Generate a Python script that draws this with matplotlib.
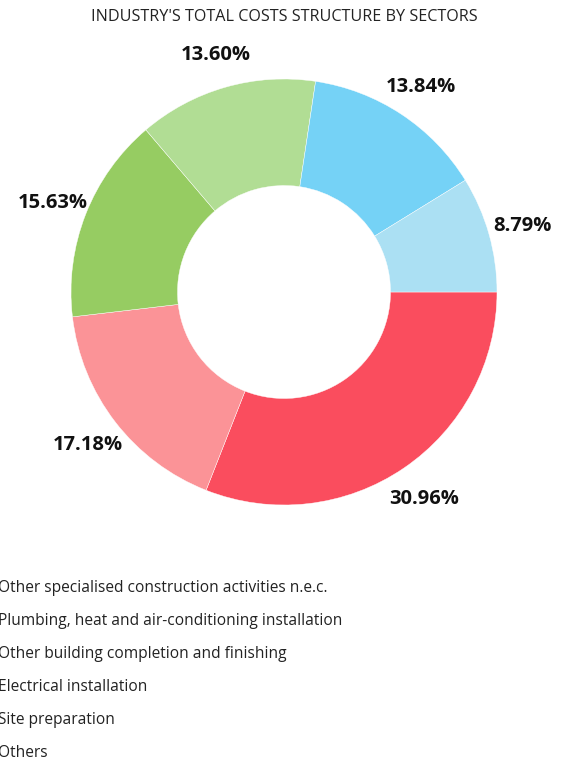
import matplotlib
matplotlib.use("Agg")
import matplotlib.pyplot as plt
from matplotlib.patches import Patch
import numpy as np

categories = [
    "Other specialised construction activities n.e.c.",
    "Plumbing, heat and air-conditioning installation",
    "Other building completion and finishing",
    "Electrical installation",
    "Site preparation",
    "Others",
]
values = [30.96, 17.18, 15.63, 13.60, 13.84, 8.79]
colors = ["#FA4D5E", "#FB9397", "#96CC62", "#B1DD94", "#75D2F6", "#ABE0F3"]
title = "INDUSTRY'S TOTAL COSTS STRUCTURE BY SECTORS"

plt.rcParams["font.family"] = ["Open Sans", "DejaVu Sans"]

W, H, DPI = 562, 760, 100
fig = plt.figure(figsize=(W / DPI, H / DPI), dpi=DPI)

R = 213.0  # outer radius px
cx, cy = 284.0, H - 292.0
L = 1.3
side = 2 * L * R
ax = fig.add_axes([(cx - side / 2) / W, (cy - side / 2) / H, side / W, side / H])
wedges, _ = ax.pie(values, colors=colors, startangle=0, counterclock=False,
                   radius=1.0, wedgeprops=dict(width=0.5, edgecolor="white", linewidth=0.3))
ax.set_xlim(-L, L)
ax.set_ylim(-L, L)
ax.set_aspect("equal")
ax.axis("off")

total = sum(values)
ang = 0.0
for v in values:
    span = v / total * 360
    mid = np.deg2rad(ang - span / 2)
    ang -= span
    d = 1.165
    ax.text(d * np.cos(mid), d * np.sin(mid) - 0.008, f"{v:.2f}%", ha="center", va="center",
            fontsize=14.5, fontweight="bold", color="#111111", clip_on=False)

fig.text(cx / W, 1 - 17 / H, title, ha="center", va="center", fontsize=11.6, color="#222222")

handles = [Patch(facecolor=c) for c in colors]
top = 1 - 580 / H
leg = fig.legend(handles, categories, loc="upper left", bbox_to_anchor=(0, top),
                 frameon=False, fontsize=11.2, handlelength=1.0, handletextpad=0.6,
                 labelspacing=1.09, borderpad=0, borderaxespad=0)
for t in leg.get_texts():
    t.set_color("#222222")

fig.canvas.draw()
renderer = fig.canvas.get_renderer()
tb = leg.get_texts()[0].get_window_extent(renderer)
shift = (tb.x0 - (-2.0)) / W
leg.set_bbox_to_anchor((0 - shift, top), transform=fig.transFigure)

fig.savefig("out.png", dpi=DPI, facecolor="white")
